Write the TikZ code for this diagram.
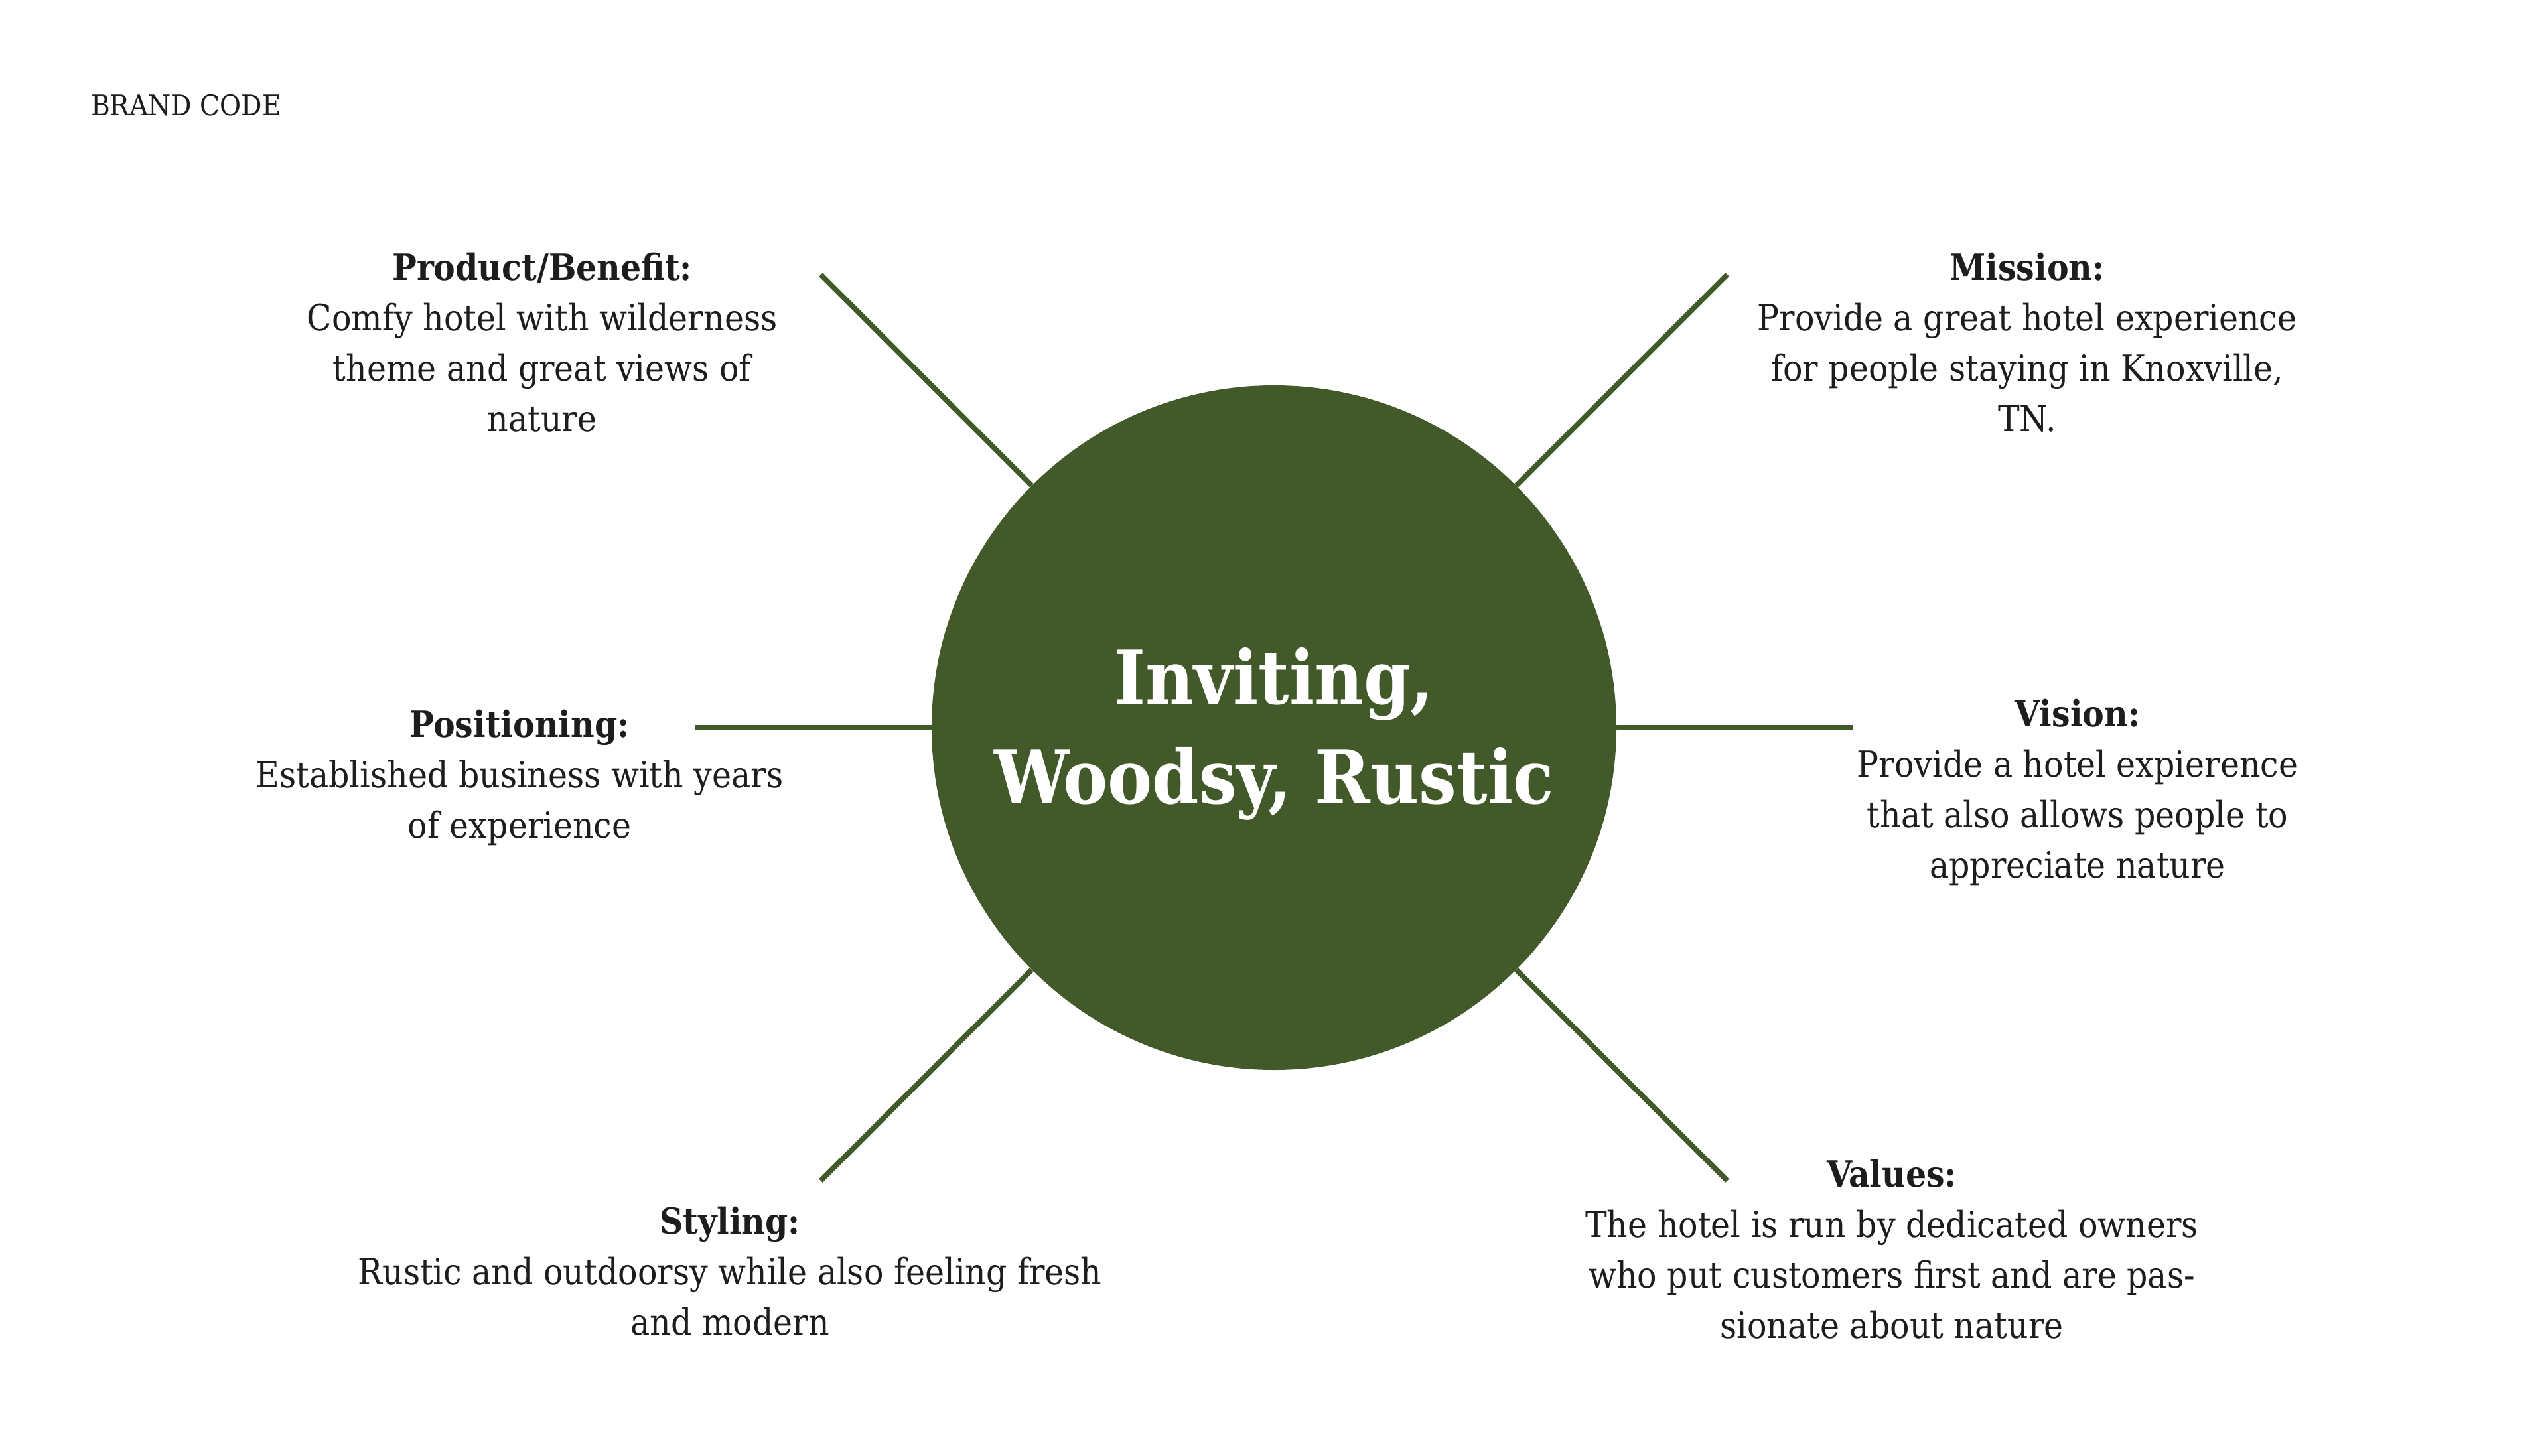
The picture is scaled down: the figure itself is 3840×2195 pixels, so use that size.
\documentclass[tikz,border=0pt]{standalone}
\usepackage{fontspec}
\setmainfont{DejaVu Serif Condensed}
\definecolor{brandgreen}{HTML}{425A29}
\definecolor{ink}{HTML}{1E1C1D}
\begin{document}
\begin{tikzpicture}[x=1bp,y=-1bp,
  blk/.style={align=center, anchor=base, inner sep=0pt, text=ink,
    font=\fontsize{54.5bp}{76bp}\selectfont},
  spoke/.style={draw=brandgreen, line width=8bp}]
\fill[white] (0,0) rectangle (3840,2195);
\useasboundingbox (0,0) rectangle (3840,2195);
% hub
\node[circle, fill=brandgreen, minimum size=1032bp, inner sep=0pt] (hub) at (1920,1097) {};
\node[align=center, anchor=base, inner sep=0pt, text=white,
  font=\bfseries\fontsize{112bp}{150bp}\selectfont] (hubtext) at (1920,1211) {Inviting,\\Woodsy, Rustic};
% spoke ends
\coordinate (e1) at (1237,414);
\coordinate (e2) at (2603,414);
\coordinate (e3) at (1048,1097);
\coordinate (e4) at (2792,1097);
\coordinate (e5) at (1237,1780);
\coordinate (e6) at (2603,1780);
\foreach \e in {e1,e2,e3,e4,e5,e6} \draw[spoke] (hub) -- (\e);
% title
\node[anchor=base west, inner sep=0pt, text=ink, font=\fontsize{43.5bp}{50bp}\selectfont] (title) at (137,175) {BRAND CODE};
% blocks (anchored at the baseline of the last line)
\node[blk] (product) at (817,650) {\textbf{Product/Benefit:}\\Comfy hotel with wilderness\\theme and great views of\\nature};
\node[blk] (mission) at (3055,650) {\textbf{Mission:}\\Provide a great hotel experience\\for people staying in Knoxville,\\TN.};
\node[blk] (positioning) at (783,1263) {\textbf{Positioning:}\\Established business with years\\of experience};
\node[blk] (vision) at (3131,1323) {\textbf{Vision:}\\Provide a hotel expierence\\that also allows people to\\appreciate nature};
\node[blk] (styling) at (1100,2012) {\textbf{Styling:}\\Rustic and outdoorsy while also feeling fresh\\and modern};
\node[blk] (values) at (2851,2017) {\textbf{Values:}\\The hotel is run by dedicated owners\\who put customers first and are pas-\\sionate about nature};
\end{tikzpicture}
\end{document}
